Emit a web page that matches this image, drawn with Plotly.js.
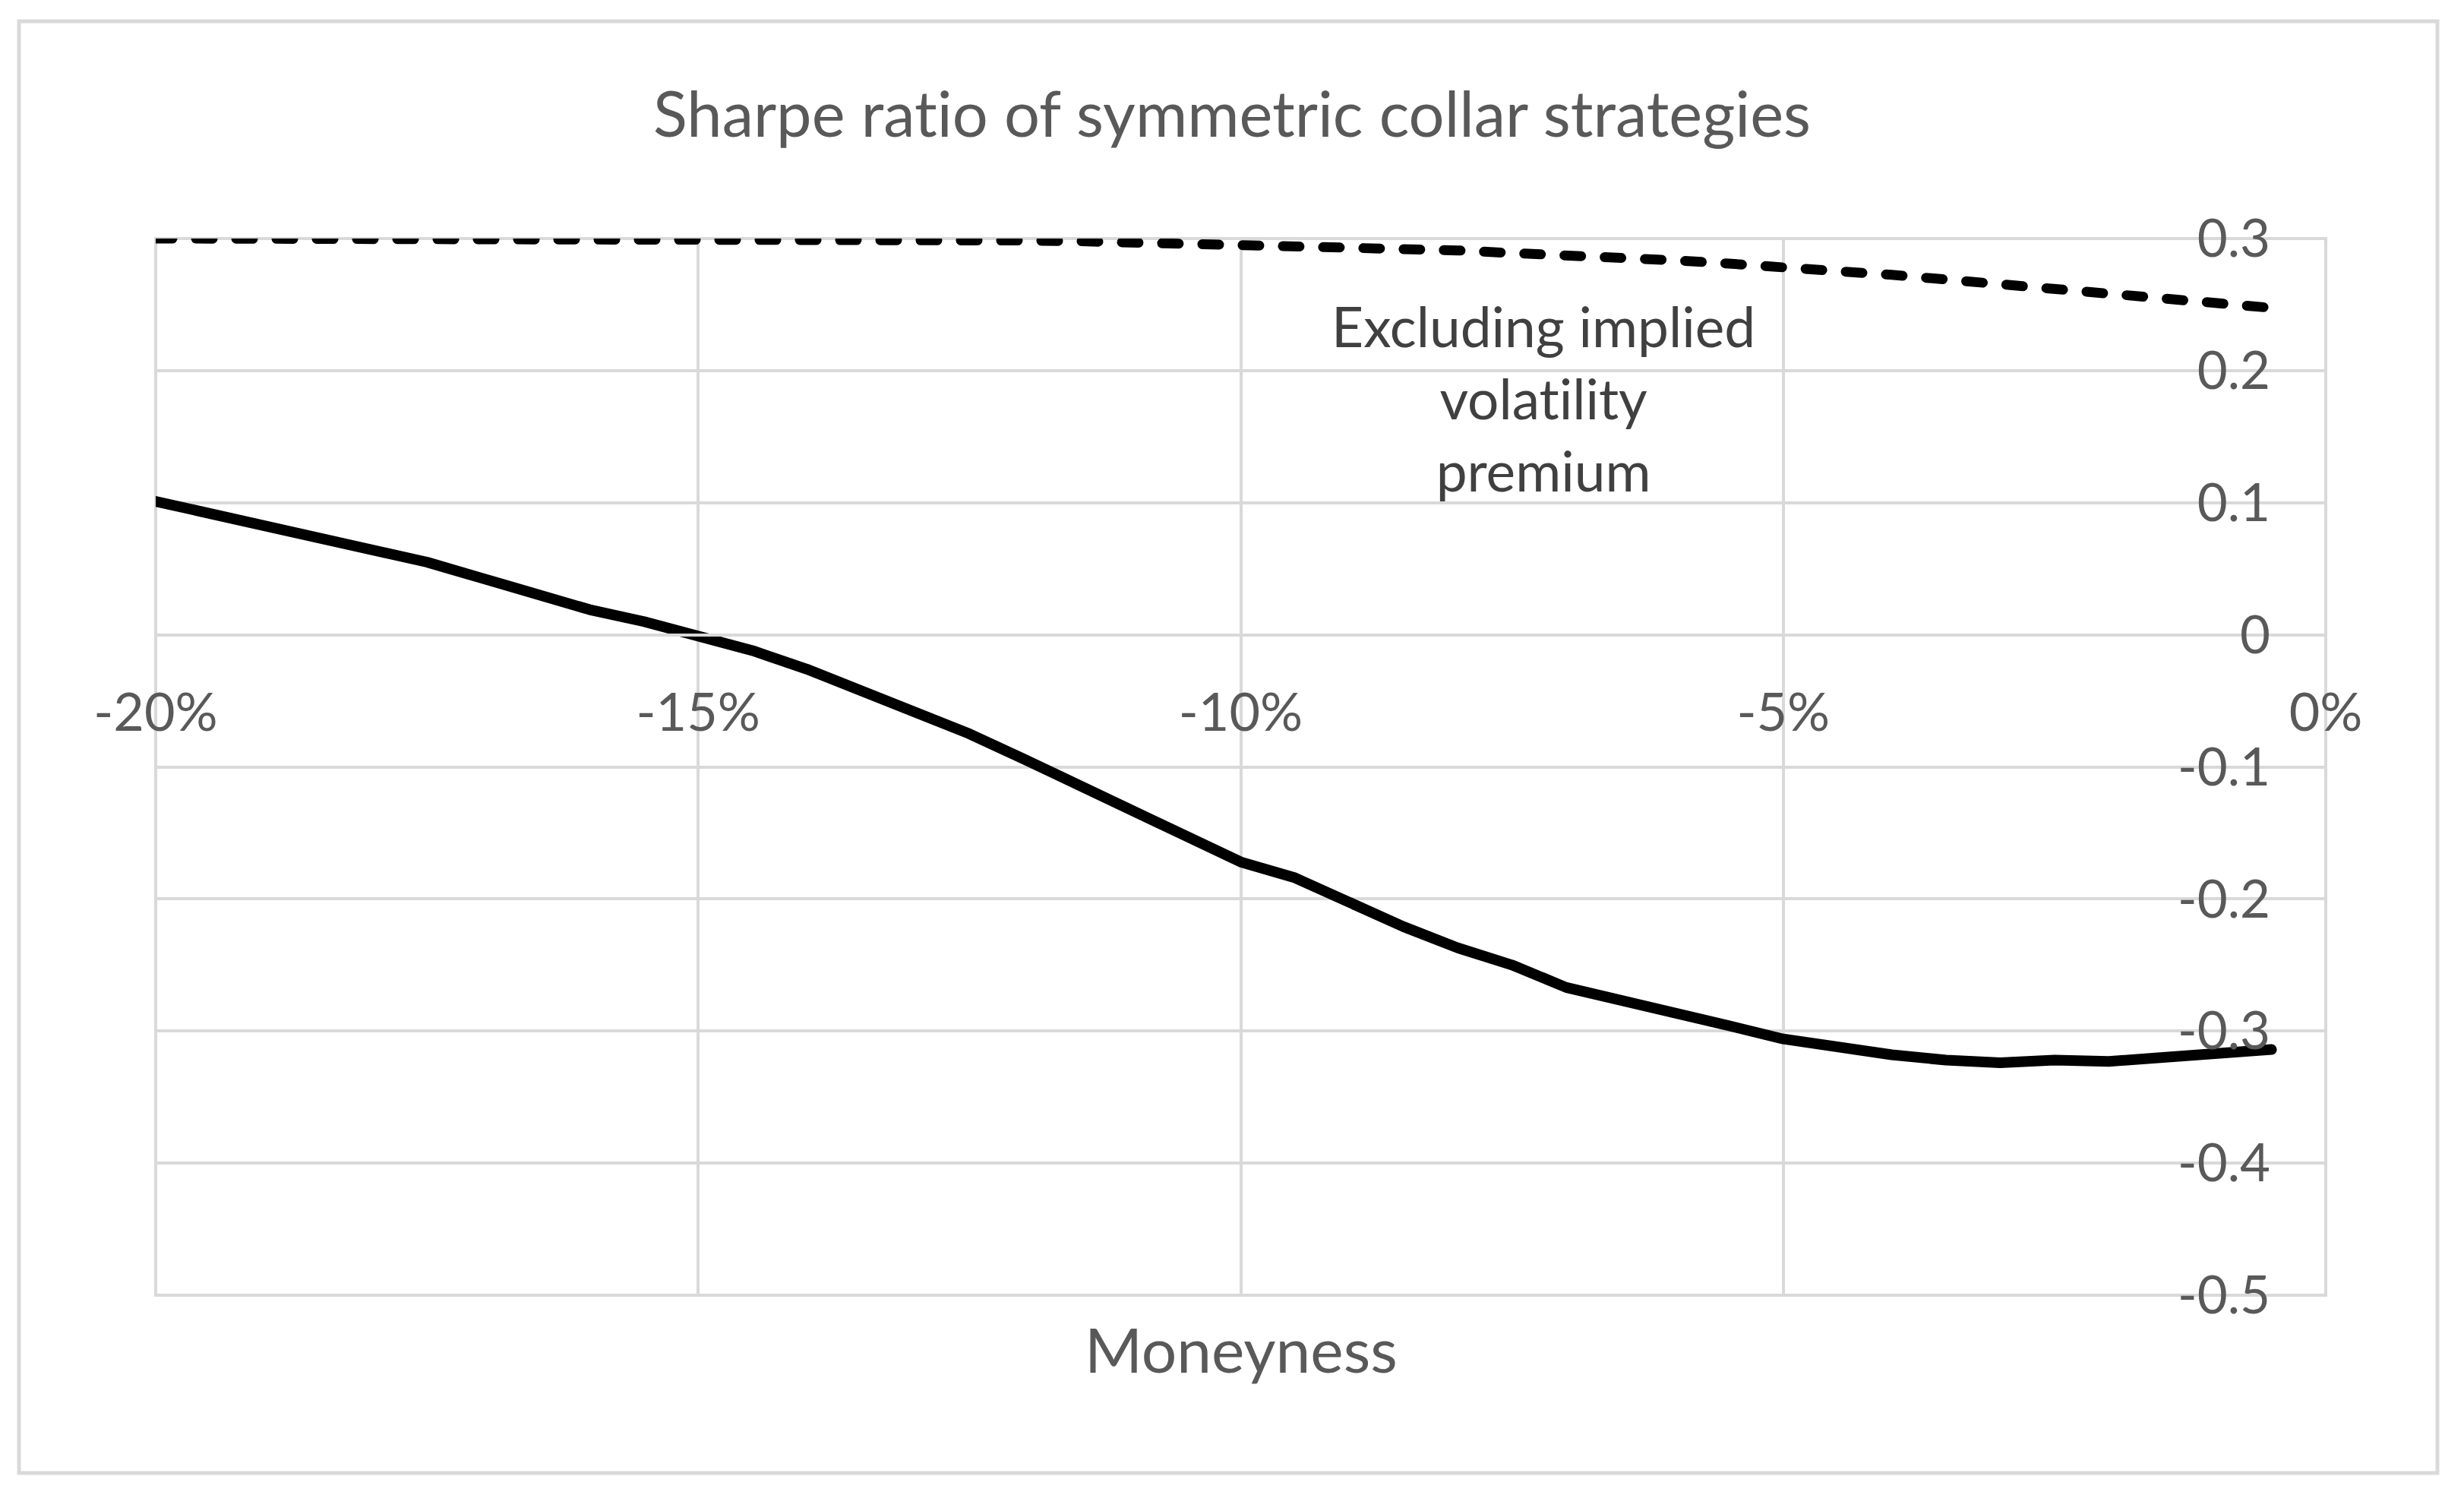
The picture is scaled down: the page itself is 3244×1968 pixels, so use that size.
<!DOCTYPE html>
<html>
<head>
<meta charset="utf-8">
<script src="https://cdn.plot.ly/plotly-3.0.1.min.js"></script>
<style>
  html, body { margin: 0; padding: 0; background: #fff; }
  #chart { width: 3244px; height: 1968px; }
  #chart text { font-variant-ligatures: none !important; font-feature-settings: "liga" 0, "clig" 0; }
  #chart .scatterlayer .js-line { stroke-linecap: round; stroke-linejoin: round; }
</style>
</head>
<body>
<div id="chart"></div>
<script>
// moneyness in % at 0.5% steps
var moneyness = [-20, -19.5, -19, -18.5, -18, -17.5, -17, -16.5, -16, -15.5,
  -15, -14.5, -14, -13.5, -13, -12.5, -12, -11.5, -11, -10.5,
  -10, -9.5, -9, -8.5, -8, -7.5, -7, -6.5, -6, -5.5,
  -5, -4.5, -4, -3.5, -3, -2.5, -2, -1.5, -1, -0.5];

// Sharpe ratio (solid line)
var sharpe = [0.101, 0.092, 0.083, 0.075, 0.066, 0.055, 0.043, 0.031, 0.019, 0.010,
  0.000, -0.012, -0.026, -0.042, -0.058, -0.075, -0.094, -0.113, -0.132, -0.151,
  -0.172, -0.184, -0.203, -0.221, -0.237, -0.250, -0.267, -0.276, -0.285, -0.296,
  -0.306, -0.313, -0.318, -0.322, -0.324, -0.322, -0.323, -0.320, -0.317, -0.314];

// Sharpe ratio excluding implied volatility premium (dashed line)
var sharpeExVol = [0.300, 0.300, 0.300, 0.300, 0.300, 0.300, 0.300, 0.300, 0.300, 0.300,
  0.2998, 0.2996, 0.2994, 0.2992, 0.299, 0.2988, 0.2985, 0.298, 0.297, 0.296,
  0.2955, 0.295, 0.294, 0.292, 0.291, 0.289, 0.2875, 0.286, 0.2835, 0.281,
  0.2785, 0.276, 0.2725, 0.269, 0.2655, 0.262, 0.258, 0.255, 0.251, 0.2475];

var xTicks = [-20, -15, -10, -5, 0];
var xTickText = ['-20%', '-15%', '-10%', '-5%', '0%'];
var yTicks = [0.3, 0.2, 0.1, 0, -0.1, -0.2, -0.3, -0.4, -0.5];
var yTickText = ['0.3', '0.2', '0.1', '0', '-0.1', '-0.2', '-0.3', '-0.4', '-0.5'];

var font = 'Lato, "Open Sans", sans-serif';
var grey = '#595959';
var grid = '#d9d9d9';

var data = [
  {
    x: moneyness,
    y: sharpeExVol,
    type: 'scatter',
    mode: 'lines',
    line: { color: '#000', width: 13, dash: '22px,31px' },
    hoverinfo: 'none'
  },
  {
    x: moneyness,
    y: sharpe,
    type: 'scatter',
    mode: 'lines',
    line: { color: '#000', width: 14 },
    hoverinfo: 'none'
  }
];

var layout = {
  width: 3244,
  height: 1968,
  margin: { l: 205, r: 182, t: 314, b: 263 },
  paper_bgcolor: '#fff',
  plot_bgcolor: '#fff',
  showlegend: false,
  font: { family: font, color: grey, size: 69 },
  title: {
    text: 'Sharpe ratio of symmetric collar strategies',
    font: { family: font, size: 83, color: grey },
    x: 0.5, xanchor: 'center',
    y: 1 - 151 / 1968, yref: 'container', yanchor: 'middle'
  },
  xaxis: {
    range: [-20, 0],
    tickvals: xTicks,
    ticktext: xTickText,
    showgrid: true,
    gridcolor: grid,
    gridwidth: 4,
    zeroline: false,
    showline: true,
    linecolor: grid,
    linewidth: 4,
    ticks: '',
    anchor: 'free',
    position: 0.625,
    ticklabelstandoff: 40,
    tickfont: { family: font, size: 70, color: grey }
  },
  yaxis: {
    range: [-0.5, 0.3],
    tickvals: yTicks,
    ticktext: yTickText,
    side: 'left',
    anchor: 'free',
    position: 1,
    ticklabelstandoff: 73,
    showgrid: true,
    gridcolor: grid,
    gridwidth: 4,
    zeroline: false,
    showline: false,
    ticks: '',
    tickfont: { family: font, size: 69, color: grey }
  },
  annotations: [
    {
      x: 0.5, xref: 'paper', xanchor: 'center',
      y: (1705 - 1775) / 1391, yref: 'paper', yanchor: 'middle',
      text: 'Moneyness', showarrow: false,
      font: { family: font, size: 82, color: grey }
    },
    {
      x: -7.21, xref: 'x', xanchor: 'center',
      y: 0.179, yref: 'y', yanchor: 'middle',
      text: 'Excluding implied<br>volatility<br>premium',
      showarrow: false, align: 'center',
      font: { family: font, size: 73, color: '#404040' }
    }
  ],
  shapes: [
    // plot area frame (gridlines at the range ends)
    {
      type: 'rect', xref: 'paper', yref: 'paper', layer: 'below',
      x0: 0, x1: 1, y0: 0, y1: 1,
      line: { color: grid, width: 4 }
    },
    // chart area border
    {
      type: 'rect', xref: 'paper', yref: 'paper',
      x0: (25 - 205) / 2857, x1: (3209 - 205) / 2857,
      y0: (1705 - 1939) / 1391, y1: (1705 - 28) / 1391,
      line: { color: grid, width: 5 }
    }
  ]
};

Plotly.newPlot('chart', data, layout, { staticPlot: true });
</script>
</body>
</html>
